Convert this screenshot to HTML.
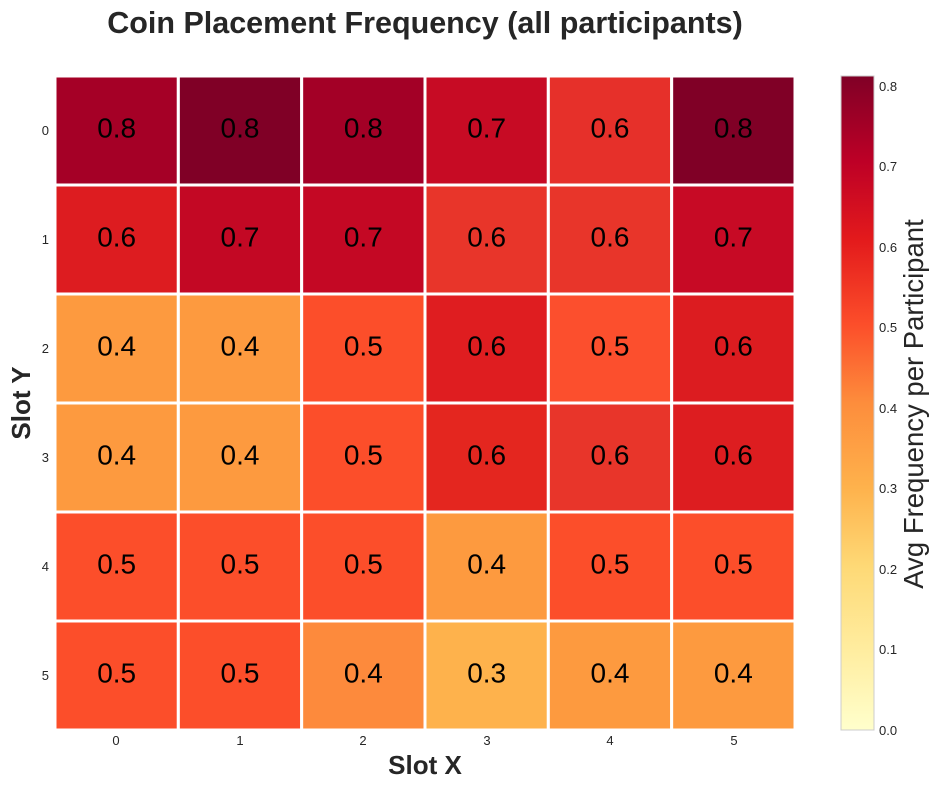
<!DOCTYPE html>
<html><head><meta charset="utf-8"><style>
body{margin:0;background:#fff;width:939px;height:790px;overflow:hidden;font-family:"Liberation Sans",sans-serif;}
</style></head><body>
<svg width="939" height="790" xmlns="http://www.w3.org/2000/svg" font-family="Liberation Sans, sans-serif">
<defs><linearGradient id="g" x1="0" y1="1" x2="0" y2="0">
<stop offset="0" stop-color="#ffffcc"/>
<stop offset="0.12" stop-color="#ffeda0"/>
<stop offset="0.25" stop-color="#fed976"/>
<stop offset="0.37" stop-color="#feb24c"/>
<stop offset="0.5" stop-color="#fd8d3c"/>
<stop offset="0.62" stop-color="#fc4e2a"/>
<stop offset="0.75" stop-color="#e31a1c"/>
<stop offset="0.87" stop-color="#bd0026"/>
<stop offset="1" stop-color="#800026"/>
</linearGradient></defs>
<text x="425" y="33" font-size="30.5" font-weight="bold" text-anchor="middle" fill="#262626">Coin Placement Frequency (all participants)</text>
<rect x="54" y="75" width="742" height="656" fill="#fff" stroke="#ccc"/>
<g stroke="#fff" stroke-width="3" id="cells"></g>
<g font-size="13" fill="#262626" text-anchor="middle">
<text x="116" y="745">0</text><text x="240" y="745">1</text><text x="363" y="745">2</text><text x="487" y="745">3</text><text x="610" y="745">4</text><text x="734" y="745">5</text>
</g>
<g font-size="13" fill="#262626" text-anchor="end">
<text x="49" y="135">0</text><text x="49" y="244">1</text><text x="49" y="353">2</text><text x="49" y="462">3</text><text x="49" y="571">4</text><text x="49" y="680">5</text>
</g>
<text x="425" y="774" font-size="26" font-weight="bold" text-anchor="middle" fill="#262626">Slot X</text>
<text transform="translate(30,403) rotate(-90)" font-size="26" font-weight="bold" text-anchor="middle" fill="#262626">Slot Y</text>
<rect x="841" y="76" width="33" height="654" fill="url(#g)" stroke="#ccc"/>
<g font-size="13" fill="#262626">
<text x="879" y="735">0.0</text><text x="879" y="654">0.1</text><text x="879" y="574">0.2</text><text x="879" y="493">0.3</text><text x="879" y="413">0.4</text><text x="879" y="332">0.5</text><text x="879" y="252">0.6</text><text x="879" y="171">0.7</text><text x="879" y="91">0.8</text>
</g>
<text transform="translate(923,404) rotate(-90)" font-size="27.5" text-anchor="middle" fill="#262626">Avg Frequency per Participant</text>
</svg>
<script>
var C=[["#a50026","#800026","#a30026","#c70b24","#e6302a","#800026"],
["#dd1c20","#c30824","#c40824","#e8352a","#e8352a","#c70a25"],
["#fd9a3f","#fd9a3f","#fc4e2a","#df1d20","#fc4f2d","#dc1c20"],
["#fd9a3f","#fd9a3f","#fc4e2a","#e4261f","#e8352a","#dd1d20"],
["#fc4e2a","#fc4e2a","#fc4e2a","#fd9a3f","#fc4e2a","#fc4e2a"],
["#fc4e2a","#fc4e2a","#fd8a3c","#feb24c","#fd9a3f","#fd9a3f"]];
var V=[["0.8","0.8","0.8","0.7","0.6","0.8"],["0.6","0.7","0.7","0.6","0.6","0.7"],["0.4","0.4","0.5","0.6","0.5","0.6"],["0.4","0.4","0.5","0.6","0.6","0.6"],["0.5","0.5","0.5","0.4","0.5","0.5"],["0.5","0.5","0.4","0.3","0.4","0.4"]];
var g=document.getElementById("cells"),s="",w=740/6,h=654/6;
for(var r=0;r<6;r++)for(var c=0;c<6;c++){var x=55+c*w,y=76+r*h;
s+='<rect x="'+x+'" y="'+y+'" width="'+w+'" height="'+h+'" fill="'+C[r][c]+'"/>';
s+='<text x="'+(x+w/2)+'" y="'+(y+h/2+7)+'" font-size="28" text-anchor="middle" stroke="none" fill="#000">'+V[r][c]+'</text>';}
g.innerHTML=s;
</script>
</body></html>
